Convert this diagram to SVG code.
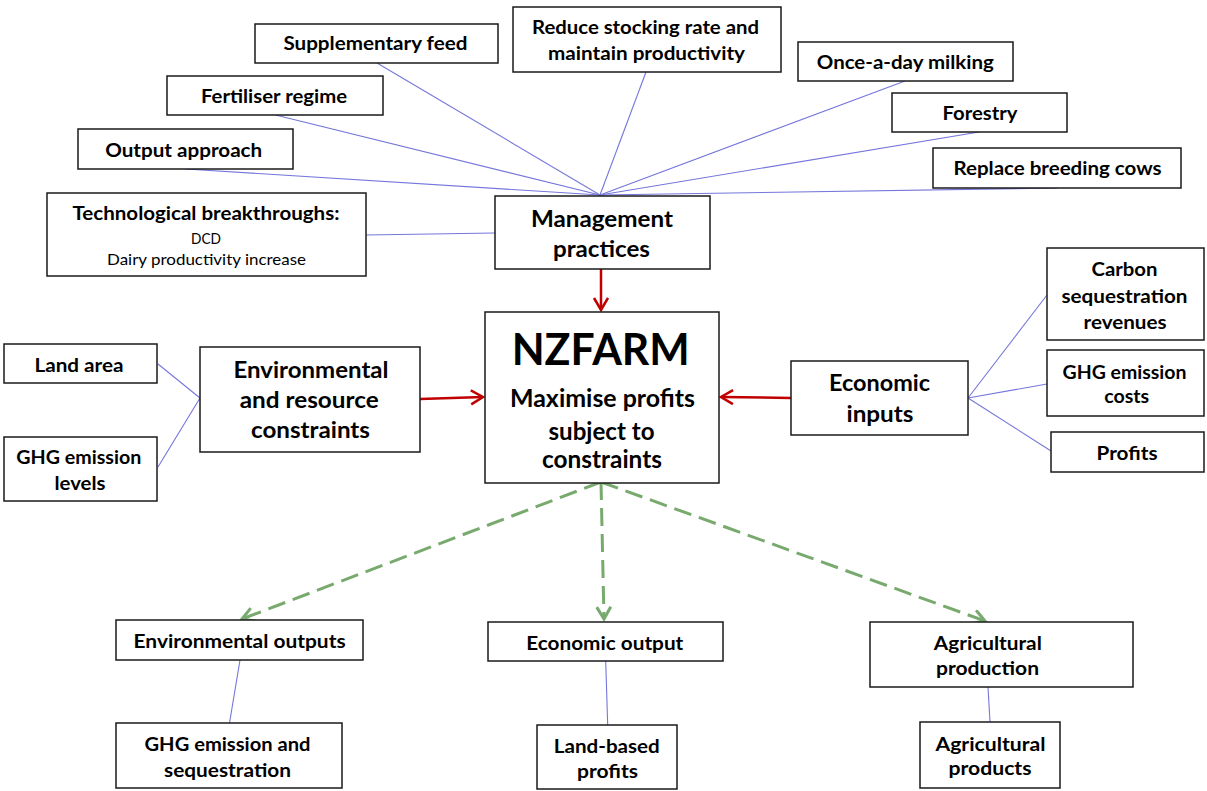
<svg xmlns="http://www.w3.org/2000/svg" width="1207" height="791" viewBox="0 0 1207 791">
<defs>
<style>
.box{fill:#fff;stroke:#1a1a1a;stroke-width:1.5}
.t{font-family:Lato,"Open Sans","Liberation Sans",sans-serif;font-weight:bold;fill:#000;text-anchor:middle;font-size:19.5px}
.big{font-size:23.5px}
.reg{font-weight:normal;font-size:15px}
.blue{stroke:#7676dc;stroke-width:1.1;fill:none}
.red{stroke:#c00000;stroke-width:2.5;fill:none}
.green{stroke:#78aa6e;stroke-width:3;fill:none;stroke-dasharray:18 8}
</style>
<marker id="ar" markerUnits="userSpaceOnUse" markerWidth="20" markerHeight="20" refX="13" refY="8" orient="auto">
<path d="M1,1 L13,8 L1,15" fill="none" stroke="#c00000" stroke-width="2.5"/>
</marker>
<marker id="ag" markerUnits="userSpaceOnUse" markerWidth="20" markerHeight="20" refX="13" refY="8" orient="auto">
<path d="M1,1 L13,8 L1,15" fill="none" stroke="#78aa6e" stroke-width="3"/>
</marker>
</defs>
<rect width="1207" height="791" fill="#fff"/>
<g id="connectors">
<line class="blue" x1="377" y1="63" x2="600" y2="195"/>
<line class="blue" x1="275.5" y1="115" x2="600" y2="195"/>
<line class="blue" x1="185.6" y1="169" x2="600" y2="195"/>
<line class="blue" x1="646" y1="72" x2="600" y2="195"/>
<line class="blue" x1="905" y1="81" x2="600" y2="195"/>
<line class="blue" x1="979" y1="132" x2="600" y2="195"/>
<line class="blue" x1="1057" y1="188" x2="600" y2="195"/>
<line class="blue" x1="366" y1="235" x2="495" y2="233"/>
<line class="blue" x1="158" y1="364" x2="200" y2="398"/>
<line class="blue" x1="158" y1="467" x2="200" y2="398"/>
<line class="blue" x1="968" y1="398" x2="1047" y2="295"/>
<line class="blue" x1="968" y1="398" x2="1047" y2="384"/>
<line class="blue" x1="968" y1="398" x2="1051" y2="451"/>
<line class="blue" x1="240" y1="660" x2="229.5" y2="723"/>
<line class="blue" x1="605.7" y1="661" x2="607.7" y2="725"/>
<line class="blue" x1="988" y1="687" x2="990" y2="722"/>
<line class="red" x1="601" y1="269" x2="601" y2="310" marker-end="url(#ar)"/>
<line class="red" x1="420" y1="399" x2="483" y2="397" marker-end="url(#ar)"/>
<line class="red" x1="791" y1="398" x2="721" y2="397" marker-end="url(#ar)"/>
<line class="green" x1="601" y1="482" x2="242" y2="619" marker-end="url(#ag)"/>
<line class="green" x1="601" y1="482" x2="604" y2="619" marker-end="url(#ag)"/>
<line class="green" x1="601" y1="482" x2="985" y2="621" marker-end="url(#ag)"/>
</g>
<g id="supp"><rect class="box" x="255" y="24" width="243" height="39"/><text class="t" x="375.4" y="50" textLength="184" lengthAdjust="spacingAndGlyphs">Supplementary feed</text></g>
<g id="fert"><rect class="box" x="167" y="76" width="216" height="39"/><text class="t" x="274" y="103" textLength="146" lengthAdjust="spacingAndGlyphs">Fertiliser regime</text></g>
<g id="output"><rect class="box" x="78" y="129" width="215" height="40"/><text class="t" x="183.7" y="157" textLength="157" lengthAdjust="spacingAndGlyphs">Output approach</text></g>
<g id="tech"><rect class="box" x="47" y="193" width="319" height="83"/><text class="t" x="206" y="220" textLength="267" lengthAdjust="spacingAndGlyphs">Technological breakthroughs:</text><text class="t reg" x="206" y="243.5" textLength="30" lengthAdjust="spacingAndGlyphs">DCD</text><text class="t reg" x="206.5" y="264.5" textLength="199" lengthAdjust="spacingAndGlyphs">Dairy productivity increase</text></g>
<g id="reduce"><rect class="box" x="513" y="7" width="268" height="65"/><text class="t" x="645.5" y="33.5" textLength="227" lengthAdjust="spacingAndGlyphs">Reduce stocking rate and</text><text class="t" x="646.5" y="60" textLength="197" lengthAdjust="spacingAndGlyphs">maintain productivity</text></g>
<g id="once"><rect class="box" x="798" y="42" width="215" height="39"/><text class="t" x="905.3" y="69" textLength="177" lengthAdjust="spacingAndGlyphs">Once-a-day milking</text></g>
<g id="forestry"><rect class="box" x="892" y="93" width="175" height="39"/><text class="t" x="980" y="120" textLength="75" lengthAdjust="spacingAndGlyphs">Forestry</text></g>
<g id="replace"><rect class="box" x="933" y="148" width="248" height="40"/><text class="t" x="1057.5" y="175" textLength="208" lengthAdjust="spacingAndGlyphs">Replace breeding cows</text></g>
<g id="mgmt"><rect class="box" x="495" y="196" width="215" height="73"/><text class="t big" x="602" y="226.5" textLength="142" lengthAdjust="spacingAndGlyphs">Management</text><text class="t big" x="601.5" y="256.5" textLength="97" lengthAdjust="spacingAndGlyphs">practices</text></g>
<g id="land"><rect class="box" x="4" y="344" width="153" height="39"/><text class="t" x="79" y="372" textLength="89" lengthAdjust="spacingAndGlyphs">Land area</text></g>
<g id="ghglev"><rect class="box" x="4" y="437" width="153" height="64"/><text class="t" x="78.8" y="464" textLength="125" lengthAdjust="spacingAndGlyphs">GHG emission</text><text class="t" x="80" y="490" textLength="51" lengthAdjust="spacingAndGlyphs">levels</text></g>
<g id="envres"><rect class="box" x="200" y="347" width="220" height="105"/><text class="t big" x="311" y="377.5" textLength="155" lengthAdjust="spacingAndGlyphs">Environmental</text><text class="t big" x="309.2" y="408" textLength="139" lengthAdjust="spacingAndGlyphs">and resource</text><text class="t big" x="310.5" y="438" textLength="119" lengthAdjust="spacingAndGlyphs">constraints</text></g>
<g id="nzfarm"><rect class="box" x="485" y="312" width="234" height="171"/><text class="t" style="font-size:44px" x="600.7" y="365" textLength="178" lengthAdjust="spacingAndGlyphs">NZFARM</text><text class="t" style="font-size:24.5px" x="602.5" y="406.8" textLength="185" lengthAdjust="spacingAndGlyphs">Maximise profits</text><text class="t" style="font-size:24.5px" x="601.5" y="439.5" textLength="106" lengthAdjust="spacingAndGlyphs">subject to</text><text class="t" style="font-size:24.5px" x="602" y="467.8" textLength="120" lengthAdjust="spacingAndGlyphs">constraints</text></g>
<g id="econin"><rect class="box" x="791" y="361" width="177" height="74"/><text class="t big" x="879.5" y="391" textLength="101" lengthAdjust="spacingAndGlyphs">Economic</text><text class="t big" x="880" y="422" textLength="67" lengthAdjust="spacingAndGlyphs">inputs</text></g>
<g id="carbon"><rect class="box" x="1047" y="248" width="157" height="92"/><text class="t" x="1124.5" y="276" textLength="66" lengthAdjust="spacingAndGlyphs">Carbon</text><text class="t" x="1124.5" y="302.5" textLength="126" lengthAdjust="spacingAndGlyphs">sequestration</text><text class="t" x="1125" y="328.5" textLength="83" lengthAdjust="spacingAndGlyphs">revenues</text></g>
<g id="ghgcost"><rect class="box" x="1047" y="350" width="157" height="66"/><text class="t" x="1124.5" y="379" textLength="124" lengthAdjust="spacingAndGlyphs">GHG emission</text><text class="t" x="1126.7" y="403" textLength="45" lengthAdjust="spacingAndGlyphs">costs</text></g>
<g id="profits"><rect class="box" x="1051" y="432" width="153" height="40"/><text class="t" x="1127" y="459.5" textLength="61" lengthAdjust="spacingAndGlyphs">Profits</text></g>
<g id="envout"><rect class="box" x="116" y="620" width="247" height="40"/><text class="t" x="239.6" y="648" textLength="212" lengthAdjust="spacingAndGlyphs">Environmental outputs</text></g>
<g id="econout"><rect class="box" x="488" y="622" width="235" height="39"/><text class="t" x="604.8" y="649.7" textLength="157" lengthAdjust="spacingAndGlyphs">Economic output</text></g>
<g id="agprod"><rect class="box" x="870" y="622" width="263" height="65"/><text class="t" x="987.8" y="650" textLength="108" lengthAdjust="spacingAndGlyphs">Agricultural</text><text class="t" x="987.5" y="675" textLength="103" lengthAdjust="spacingAndGlyphs">production</text></g>
<g id="ghgseq"><rect class="box" x="116" y="723" width="226" height="65"/><text class="t" x="227.5" y="751" textLength="166" lengthAdjust="spacingAndGlyphs">GHG emission and</text><text class="t" x="227.5" y="777" textLength="127" lengthAdjust="spacingAndGlyphs">sequestration</text></g>
<g id="landprof"><rect class="box" x="537" y="725" width="140" height="64"/><text class="t" x="606.8" y="752.5" textLength="106" lengthAdjust="spacingAndGlyphs">Land-based</text><text class="t" x="607.5" y="778" textLength="61" lengthAdjust="spacingAndGlyphs">profits</text></g>
<g id="agprods"><rect class="box" x="920" y="722" width="140" height="66"/><text class="t" x="990.5" y="751" textLength="110" lengthAdjust="spacingAndGlyphs">Agricultural</text><text class="t" x="990" y="775" textLength="83" lengthAdjust="spacingAndGlyphs">products</text></g>
</svg>
